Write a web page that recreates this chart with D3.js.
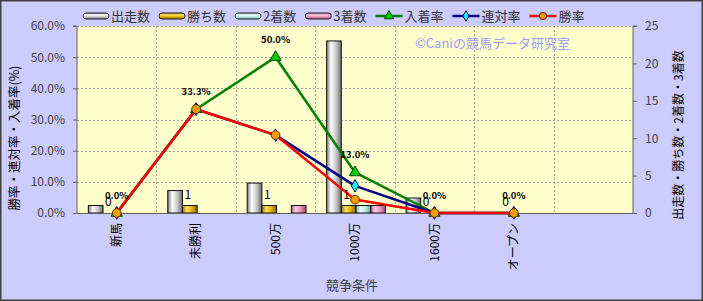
<!DOCTYPE html>
<html>
<head>
<meta charset="utf-8">
<script src="https://cdn.jsdelivr.net/npm/d3@7"></script>
<style>
  body { margin: 0; background: #fff; }
  svg text { font-family: "Noto Sans CJK JP", "Noto Sans", sans-serif; }
</style>
</head>
<body>
<svg id="chart" width="703" height="301"></svg>
<script>
// 競争条件ごとの成績
var categories = ["新馬", "未勝利", "500万", "1000万", "1600万", "オープン"];
var starts  = [1, 3, 4, 23, 2, 0];   // 出走数
var wins    = [0, 1, 1, 1, 0, 0];    // 勝ち数
var seconds = [0, 0, 0, 1, 0, 0];    // 2着数
var thirds  = [0, 0, 1, 1, 0, 0];    // 3着数
var placeRate  = [0, 33.3, 50.0, 13.0, 0, 0]; // 入着率
var rentaiRate = [0, 33.3, 25.0, 8.7, 0, 0];  // 連対率
var winRate    = [0, 33.3, 25.0, 4.3, 0, 0];  // 勝率
var leftTicks  = [0, 10, 20, 30, 40, 50, 60];
var rightTicks = [0, 5, 10, 15, 20, 25];

var W = 703, H = 301;
var plot = { left: 77, right: 633, top: 26, bottom: 213 };
var svg = d3.select("#chart");

var barSeries = [
    { name: "出走数", values: starts,  c: ["#7a7a7a", "#ffffff", "#c8c8c8", "#6a6a6a"] },
    { name: "勝ち数", values: wins,    c: ["#a07800", "#ffe060", "#e0b000", "#8a6400"] },
    { name: "2着数",  values: seconds, c: ["#80b0b0", "#f0ffff", "#b8e8e8", "#70a0a0"] },
    { name: "3着数",  values: thirds,  c: ["#b06080", "#ffd0e8", "#e890b8", "#a05070"] }
];
var lineSeries = [
    { name: "入着率", values: placeRate,  color: "#008000", fill: "#00cc00", stroke: "#004000", shape: d3.symbolTriangle, size: 55 },
    { name: "連対率", values: rentaiRate, color: "#000080", fill: "#00ffff", stroke: "#000060", shape: d3.symbolDiamond,  size: 45 },
    { name: "勝率",   values: winRate,    color: "#ff0000", fill: "#ff9900", stroke: "#553300", shape: d3.symbolCircle,   size: 60 }
];

// gradients for the 3D-ish bars
var defs = svg.append("defs");
barSeries.forEach(function (s, i) {
    ["h", "v"].forEach(function (dir) {
        var g = defs.append("linearGradient")
            .attr("id", "grad-" + i + dir)
            .attr("x1", 0).attr("y1", 0)
            .attr("x2", dir == "h" ? 1 : 0).attr("y2", dir == "h" ? 0 : 1);
        [0, 0.3, 0.65, 1].forEach(function (o, k) {
            g.append("stop").attr("offset", o).attr("stop-color", s.c[k]);
        });
    });
});

// background
svg.append("rect").attr("x", 0.75).attr("y", 0.75).attr("width", W - 1.5).attr("height", H - 1.5)
    .attr("fill", "#ccccff").attr("stroke", "#404040").attr("stroke-width", 1.5);
svg.append("rect").attr("x", plot.left).attr("y", plot.top)
    .attr("width", plot.right - plot.left).attr("height", plot.bottom - plot.top)
    .attr("fill", "#ffffcc");

// scales
var slots = categories.concat([""]);
var x = d3.scaleBand().domain(d3.range(slots.length)).range([plot.left, plot.right]);
var xs = d3.scaleBand().domain(d3.range(barSeries.length)).range([0, x.bandwidth()])
    .paddingInner(0).paddingOuter(0.7).align(0.55);
var yL = d3.scaleLinear().domain([0, 60]).range([plot.bottom, plot.top]);
var yR = d3.scaleLinear().domain([0, 25]).range([plot.bottom, plot.top]);

// grid
var grid = svg.append("g").attr("stroke", "#a0a0a0").attr("stroke-dasharray", "2,2").attr("stroke-width", 1);
leftTicks.slice(1).forEach(function (t) {
    grid.append("line").attr("x1", plot.left).attr("x2", plot.right)
        .attr("y1", Math.round(yL(t)) + 0.5).attr("y2", Math.round(yL(t)) + 0.5);
});
d3.range(1, slots.length).forEach(function (i) {
    var gx = Math.round(x(i)) + 0.5;
    grid.append("line").attr("x1", gx).attr("x2", gx).attr("y1", plot.top).attr("y2", plot.bottom);
});

// bars
barSeries.forEach(function (s, i) {
    svg.append("g").selectAll("rect")
        .data(s.values.map(function (v, j) { return { v: v, j: j }; }).filter(function (d) { return d.v > 0; }))
        .join("rect")
        .attr("x", function (d) { return x(d.j) + xs(i); })
        .attr("y", function (d) { return yR(d.v); })
        .attr("width", xs.bandwidth())
        .attr("height", function (d) { return yR(0) - yR(d.v); })
        .attr("fill", "url(#grad-" + i + "h)")
        .attr("stroke", "#111").attr("stroke-width", 1);
});

// axes
var axL = svg.append("g").attr("transform", "translate(" + plot.left + ",0)")
    .call(d3.axisLeft(yL).tickValues(leftTicks).tickSize(4).tickPadding(8)
        .tickFormat(function (d) { return d.toFixed(1) + "%"; }));
var axR = svg.append("g").attr("transform", "translate(" + plot.right + ",0)")
    .call(d3.axisRight(yR).tickValues(rightTicks).tickSize(4).tickPadding(8));
var axB = svg.append("g").attr("transform", "translate(0," + plot.bottom + ")")
    .call(d3.axisBottom(x).tickSize(0).tickFormat(""));
[axL, axR, axB].forEach(function (a) {
    a.selectAll("path, line").attr("stroke", "#606060");
    a.select(".domain").attr("d", a === axB ? "M" + plot.left + ",0.5H" + plot.right :
        "M" + (a === axL ? -4 : 4) + "," + plot.top + "H0V" + plot.bottom);
    a.selectAll("text").attr("font-size", 12).attr("fill", "#404040");
});

// category labels (vertical)
svg.append("g").selectAll("text").data(categories).join("text")
    .attr("transform", function (d, i) { return "translate(" + (x(i) + x.bandwidth() / 2) + ",223) rotate(-90)"; })
    .attr("text-anchor", "end").attr("dy", "0.35em")
    .attr("font-size", 12).attr("fill", "#000")
    .text(function (d) { return d; });

// lines + markers
var line = d3.line()
    .x(function (d, i) { return x(i) + x.bandwidth() / 2; })
    .y(function (d) { return yL(d); });
lineSeries.forEach(function (s) {
    svg.append("path").datum(s.values).attr("d", line)
        .attr("fill", "none").attr("stroke", s.color).attr("stroke-width", 2.5)
        .attr("stroke-linejoin", "round");
});
lineSeries.forEach(function (s) {
    svg.append("g").selectAll("path").data(s.values).join("path")
        .attr("transform", function (d, i) { return "translate(" + (x(i) + x.bandwidth() / 2) + "," + yL(d) + ")"; })
        .attr("d", d3.symbol().type(s.shape).size(s.size))
        .attr("fill", s.fill).attr("stroke", s.stroke).attr("stroke-width", 1);
});

// data labels (the 0 and 0.0% labels overlap in the original too)
svg.append("g").selectAll("text").data(wins).join("text")
    .attr("x", function (d, i) { return x(i) + xs(1) + xs.bandwidth() / 2 - 2; })
    .attr("y", function (d) { return yR(d) - 7; })
    .attr("text-anchor", "middle").attr("font-size", 12).attr("fill", "#000")
    .text(function (d) { return d; });
svg.append("g").selectAll("text").data(placeRate).join("text")
    .attr("x", function (d, i) { return x(i) + x.bandwidth() / 2; })
    .attr("y", function (d) { return yL(d) - 14; })
    .attr("text-anchor", "middle").attr("font-size", 9.5).attr("font-weight", "bold").attr("fill", "#000")
    .text(function (d) { return d.toFixed(1) + "%"; });

// watermark
svg.append("text").attr("x", 415).attr("y", 48).attr("font-size", 13).attr("fill", "#9999ff")
    .text("©Caniの競馬データ研究室");

// axis titles
svg.append("text").attr("transform", "translate(15,138) rotate(-90)")
    .attr("text-anchor", "middle").attr("dy", "0.35em").attr("font-size", 12.5).attr("fill", "#000")
    .text("勝率・連対率・入着率(%)");
svg.append("text").attr("transform", "translate(679,135) rotate(-90)")
    .attr("text-anchor", "middle").attr("dy", "0.35em").attr("font-size", 12).attr("fill", "#000")
    .text("出走数・勝ち数・2着数・3着数");
svg.append("text").attr("x", 352).attr("y", 285).attr("dy", "0.35em")
    .attr("text-anchor", "middle").attr("font-size", 13).attr("fill", "#404040")
    .text("競争条件");

// legend
var lg = svg.append("g");
var lx = 83, ly = 16;
barSeries.forEach(function (s, i) {
    lg.append("rect").attr("x", lx).attr("y", ly - 3).attr("width", 26).attr("height", 6)
        .attr("rx", 3).attr("fill", "url(#grad-" + i + "v)").attr("stroke", "#222");
    var t = lg.append("text").attr("x", lx + 28).attr("y", ly).attr("dy", "0.35em")
        .attr("font-size", 13).attr("fill", "#333").text(s.name);
    lx += 28 + t.node().getComputedTextLength() + 9;
});
lineSeries.forEach(function (s) {
    lg.append("line").attr("x1", lx).attr("x2", lx + 27).attr("y1", ly).attr("y2", ly)
        .attr("stroke", s.color).attr("stroke-width", 2.5);
    lg.append("path").attr("transform", "translate(" + (lx + 13.5) + "," + ly + ")")
        .attr("d", d3.symbol().type(s.shape).size(s.size * 0.7))
        .attr("fill", s.fill).attr("stroke", s.stroke);
    var t = lg.append("text").attr("x", lx + 29).attr("y", ly).attr("dy", "0.35em")
        .attr("font-size", 13).attr("fill", "#333").text(s.name);
    lx += 29 + t.node().getComputedTextLength() + 9;
});
</script>
</body>
</html>
